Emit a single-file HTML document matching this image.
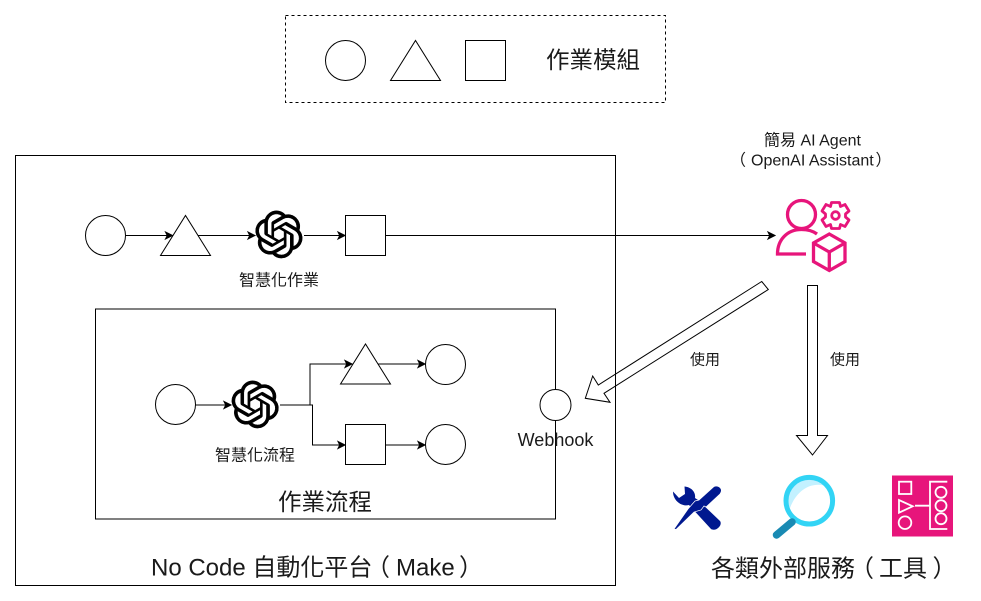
<!DOCTYPE html>
<html><head><meta charset="utf-8"><style>
html,body{margin:0;padding:0;background:#fff}
svg{display:block}
text{font-family:"Liberation Sans","Noto Sans CJK TC",sans-serif;fill:#1a1a1a;text-anchor:middle;dominant-baseline:central}
text.b{text-anchor:start}
.s{fill:#fff;stroke:#000;stroke-width:1}
.l{fill:none;stroke:#000;stroke-width:1}
.a{fill:#000;stroke:#000;stroke-width:1}
</style></head><body>
<svg width="981" height="601" viewBox="0 0 981 601" xmlns="http://www.w3.org/2000/svg">
<defs>
<path id="oa" d="M22.2819 9.8211a5.9847 5.9847 0 0 0-.5157-4.9108 6.0462 6.0462 0 0 0-6.5098-2.9A6.0651 6.0651 0 0 0 4.9807 4.1818a5.9847 5.9847 0 0 0-3.9977 2.9 6.0462 6.0462 0 0 0 .7427 7.0966 5.98 5.98 0 0 0 .511 4.9107 6.051 6.051 0 0 0 6.5146 2.9001A5.9847 5.9847 0 0 0 13.2599 24a6.0557 6.0557 0 0 0 5.7718-4.2058 5.9894 5.9894 0 0 0 3.9977-2.9001 6.0557 6.0557 0 0 0-.7475-7.0729zm-9.022 12.6081a4.4755 4.4755 0 0 1-2.8764-1.0408l.1419-.0804 4.7783-2.7582a.7948.7948 0 0 0 .3927-.6813v-6.7369l2.02 1.1686a.071.071 0 0 1 .038.052v5.5826a4.504 4.504 0 0 1-4.4945 4.4944zm-9.6607-4.1254a4.4708 4.4708 0 0 1-.5346-3.0137l.142.0852 4.783 2.7582a.7712.7712 0 0 0 .7806 0l5.8428-3.3685v2.3324a.0804.0804 0 0 1-.0332.0615L9.74 19.9502a4.4992 4.4992 0 0 1-6.1408-1.6464zM2.3408 7.8956a4.485 4.485 0 0 1 2.3655-1.9728V11.6a.7664.7664 0 0 0 .3879.6765l5.8144 3.3543-2.0201 1.1685a.0757.0757 0 0 1-.071 0l-4.8303-2.7865A4.504 4.504 0 0 1 2.3408 7.872zm16.5963 3.8558L13.1038 8.364 15.1192 7.2a.0757.0757 0 0 1 .071 0l4.8303 2.7913a4.4944 4.4944 0 0 1-.6765 8.1042v-5.6772a.79.79 0 0 0-.407-.667zm2.0107-3.0231l-.142-.0852-4.7735-2.7818a.7759.7759 0 0 0-.7854 0L9.409 9.2297V6.8974a.0662.0662 0 0 1 .0284-.0615l4.8303-2.7866a4.4992 4.4992 0 0 1 6.6802 4.66zM8.3065 12.863l-2.02-1.1638a.0804.0804 0 0 1-.038-.0567V6.0742a4.4992 4.4992 0 0 1 7.3757-3.4537l-.142.0805L8.704 5.459a.7948.7948 0 0 0-.3927.6813zm1.0976-2.3654l2.602-1.4998 2.6069 1.4998v2.9994l-2.5974 1.4997-2.6067-1.4997Z" stroke="#000" stroke-width="0.25"/>
<path id="ah" d="M0 0L-7 -3.5L-5.25 0L-7 3.5Z"/>
</defs>

<!-- legend -->
<rect x="285.5" y="15.5" width="380" height="87" fill="none" stroke="#000" stroke-dasharray="3 3"/>
<circle class="s" cx="345.5" cy="60.5" r="20"/>
<path class="s" d="M390.5 80.5L415.5 40.5L440.5 80.5Z"/>
<rect class="s" x="465.5" y="40.5" width="40" height="40"/>
<text x="593" y="60" font-size="23.5">作業模組</text>

<!-- outer -->
<rect class="l" x="15.5" y="155.5" width="600" height="430"/>
<rect class="l" x="95.5" y="309" width="460" height="210"/>

<!-- row 1 -->
<path class="l" d="M125.5 235.5H775"/>
<circle class="s" cx="105.5" cy="235.5" r="20"/>
<path class="s" d="M160.5 255.5L185.5 215.5L210.5 255.5Z"/>
<rect x="254" y="210" width="50" height="50" fill="#fff"/>
<use href="#oa" transform="translate(255.3 210.8) scale(1.97)"/>
<rect class="s" x="345.5" y="215.5" width="40" height="40"/>
<use class="a" href="#ah" transform="translate(172.5 235.5)"/>
<use class="a" href="#ah" transform="translate(255 235.5)"/>
<use class="a" href="#ah" transform="translate(345 235.5)"/>
<use class="a" href="#ah" transform="translate(775 235.5)"/>
<text x="279" y="281" font-size="16">智慧化作業</text>

<!-- inner flow -->
<path class="l" d="M195.5 405H231M279 405H310V364H352M279 405H312.500V445H345M378 364H425M385.500 445H425"/>
<circle class="s" cx="175.500" cy="404.500" r="20"/>
<rect x="230" y="380" width="50" height="50" fill="#fff"/>
<use href="#oa" transform="translate(231.500 380.800) scale(1.97)"/>
<path class="s" d="M340.500 384L365.500 344L390.500 384Z"/>
<rect class="s" x="345.500" y="424.500" width="40" height="40"/>
<circle class="s" cx="445.500" cy="364.500" r="20"/>
<circle class="s" cx="445.500" cy="444.500" r="20"/>
<use class="a" href="#ah" transform="translate(231 405)"/>
<use class="a" href="#ah" transform="translate(352 364)"/>
<use class="a" href="#ah" transform="translate(345 445)"/>
<use class="a" href="#ah" transform="translate(425 364)"/>
<use class="a" href="#ah" transform="translate(425 445)"/>
<text x="255" y="456" font-size="16">智慧化流程</text>
<text x="325" y="502" font-size="23.500">作業流程</text>

<circle class="s" cx="555.500" cy="405" r="15.500"/>
<text x="555.500" y="440" font-size="18">Webhook</text>

<text class="b" x="151" y="568" font-size="24">No Code 自動化平台</text>
<text class="b" x="366" y="568" font-size="24">（</text>
<text class="b" x="396" y="568" font-size="24">Make</text>
<text class="b" x="459" y="568" font-size="24">）</text>

<!-- block arrows -->
<path d="M761.700 281.500L768.300 289.500L604 393.300L610 402.300L585.300 398.300L592.700 376L598.300 385Z" fill="none" stroke="#000"/>
<path d="M807.500 285.500H817.500V435.500H827.500L812.500 455L796.500 435.500H807.500Z" fill="#fff" stroke="#000"/>
<text x="705" y="360" font-size="15">使用</text>
<text x="845" y="360" font-size="15">使用</text>

<!-- agent -->
<text class="b" x="764" y="141" font-size="16">簡易 AI Agent</text>
<text class="b" x="730" y="161" font-size="16">（</text>
<text class="b" x="751" y="161" font-size="16">OpenAI Assistant</text>
<text class="b" x="875.500" y="161" font-size="16">）</text>
<g fill="none" stroke="#E7157B" stroke-width="3.300">
<circle cx="801.500" cy="214.500" r="14"/>
<path d="M806 254H777.500C777.500 240 787 229.500 801.500 229.500C808 229.500 813 231 817 234"/>
<path d="M829.300 234L845 243V261.500L829.300 270.500L813.500 261.500V243ZM813.500 243L829.300 252L845 243M829.300 252V270.500"/>
<path stroke-width="2.800" stroke-linejoin="round" d="M831.500 202.500H839.500L840.500 206.500L845 204.500L849 211L845.500 214V217L849 220L845 226.500L840.500 224.500L839.500 228.500H831.500L830.500 224.500L826 226.500L822 220L825.500 217V214L822 211L826 204.500L830.500 206.500Z"/>
<circle cx="835.500" cy="215.500" r="3.800" stroke-width="2.800"/>
</g>

<!-- tools -->
<path fill="#00188F" d="M684.500 486.500C691 487 696 492 695 498L698 500L720 521C723 525 716 532 711 529L689 505C682 507 673 501 673 491.500L679 498L685 494Z"/>
<path fill="#00188F" stroke="#fff" stroke-width="0.700" d="M714 486.500C716 485.500 719 486 720.500 488C722 490 721.500 492 720 494L706 507L704 506L701 510L694 512L676 529.500L674 529L688 509L695 501L699 500Z"/>
<g>
<circle cx="809.300" cy="500.700" r="22" fill="#fff"/>
<path d="M788 500C788 488 798 479.500 809 479.500C818 479.500 824 483 826 486C814 482 798 487 790 508C789 506 788 503 788 500Z" fill="#C3F1FF"/>
<circle cx="809.300" cy="500.700" r="23.300" fill="none" stroke="#32D4F5" stroke-width="5"/>
<path d="M792 522L776.500 535" stroke="#198AB3" stroke-width="7.500" stroke-linecap="round"/>
</g>
<rect x="892" y="475.500" width="61" height="61" fill="#E7157B"/>
<g fill="none" stroke="#fff" stroke-width="1.800">
<rect x="899" y="481.700" width="12.300" height="12.300"/>
<path d="M899 500V512.700L912.700 506.300Z"/>
<circle cx="905" cy="522.700" r="6.300"/>
<path d="M915 505.700H930M947.300 481.700H930V529H947.300"/>
<circle cx="941" cy="492.300" r="5.500"/>
<circle cx="941" cy="505.700" r="5.500"/>
<circle cx="941" cy="518.700" r="5.500"/>
</g>
<text class="b" x="711" y="569" font-size="24">各類外部服務</text>
<text class="b" x="850" y="569" font-size="24">（</text>
<text class="b" x="879" y="569" font-size="24">工具</text>
<text class="b" x="932.500" y="569" font-size="24">）</text>
</svg>
</body></html>
